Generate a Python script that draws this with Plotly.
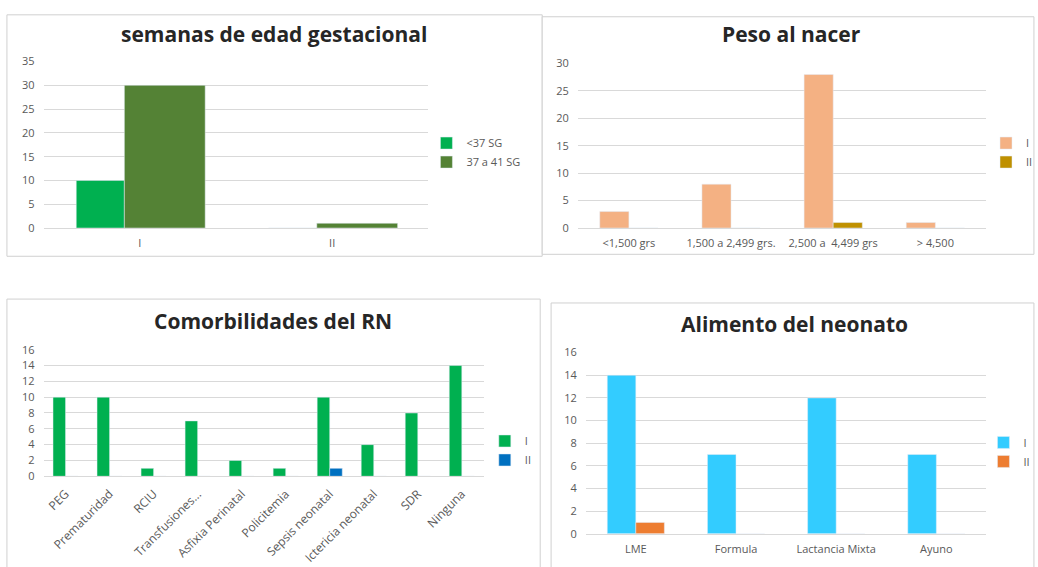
import plotly.graph_objects as go

W, H = 1038, 567

# ---------------- data ----------------
sg_categories = ["I", "II"]
sg_lt37 = [10, 0]
sg_37_41 = [30, 1]

peso_categories = ["<1,500 grs", "1,500 a 2,499 grs.", "2,500 a  4,499 grs", "> 4,500"]
peso_I = [3, 8, 28, 1]
peso_II = [0, 0, 1, 0]

comorb_categories = ["PEG", "Prematuridad", "RCIU", "Transfusiones...", "Asfixia Perinatal",
                     "Policitemia", "Sepsis neonatal", "Ictericia neonatal", "SDR", "Ninguna"]
comorb_I = [10, 10, 1, 7, 2, 1, 10, 4, 8, 14]
comorb_II = [0, 0, 0, 0, 0, 0, 1, 0, 0, 0]

alim_categories = ["LME", "Formula", "Lactancia Mixta", "Ayuno"]
alim_I = [14, 7, 12, 7]
alim_II = [1, 0, 0, 0]

titles = ["semanas de edad gestacional", "Peso al nacer", "Comorbilidades del RN", "Alimento del neonato"]


def px(x):
    return x / W


def py(y):
    return 1 - y / H


FONT = "Open Sans"
TICK = dict(family=FONT, size=11, color="#595959")
GRID = "#d9d9d9"

fig = go.Figure()

# Chart 1
fig.add_trace(go.Bar(x=sg_categories, y=sg_lt37, name="<37 SG", marker_color="#00B050",
                     offset=-0.33, width=0.25, xaxis="x", yaxis="y", legend="legend"))
fig.add_trace(go.Bar(x=sg_categories, y=sg_37_41, name="37 a 41 SG", marker_color="#548235",
                     offset=-0.08, width=0.42, xaxis="x", yaxis="y", legend="legend"))
# Chart 2
fig.add_trace(go.Bar(x=peso_categories, y=peso_I, name="I", marker_color="#F4B183",
                     xaxis="x2", yaxis="y2", legend="legend2"))
fig.add_trace(go.Bar(x=peso_categories, y=peso_II, name="II", marker_color="#BF9000",
                     xaxis="x2", yaxis="y2", legend="legend2"))
# Chart 3
fig.add_trace(go.Bar(x=comorb_categories, y=comorb_I, name="I", marker_color="#00B050",
                     xaxis="x3", yaxis="y3", legend="legend3"))
fig.add_trace(go.Bar(x=comorb_categories, y=comorb_II, name="II", marker_color="#0070C0",
                     xaxis="x3", yaxis="y3", legend="legend3"))
# Chart 4
fig.add_trace(go.Bar(x=alim_categories, y=alim_I, name="I", marker_color="#33CCFF",
                     xaxis="x4", yaxis="y4", legend="legend4"))
fig.add_trace(go.Bar(x=alim_categories, y=alim_II, name="II", marker_color="#ED7D31",
                     xaxis="x4", yaxis="y4", legend="legend4"))


def xax(dom, anchor, angle=0, size=11):
    return dict(domain=dom, anchor=anchor, type="category", showgrid=False,
                showline=True, linecolor=GRID, linewidth=1, ticks="",
                tickfont=dict(family=FONT, size=size, color="#595959"),
                tickangle=angle, fixedrange=True, ticklabelstandoff=5)


def yax(dom, anchor, rng, dtick):
    return dict(domain=dom, anchor=anchor, range=rng, dtick=dtick, showgrid=True,
                gridcolor=GRID, gridwidth=1, showline=False, zeroline=False, ticks="",
                tickfont=TICK, fixedrange=True, ticklabelstandoff=8)


def leg(x, ymid):
    return dict(x=px(x), y=py(ymid), xanchor="left", yanchor="middle",
                font=dict(family=FONT, size=11, color="#595959"), bgcolor="rgba(0,0,0,0)",
                tracegroupgap=0, itemwidth=30)


borders = [(7, 7, 548, 255), (548, 9, 1045, 253), (7, 299, 546, 575), (557, 303, 1045, 575)]
shapes = [dict(type="rect", xref="paper", yref="paper", x0=px(a), y0=py(d), x1=px(c), y1=py(b),
               line=dict(color="#d0d0d0", width=1), fillcolor="white", layer="below")
          for a, b, c, d in borders]

title_pos = [(277, 27), (800, 27), (276, 322), (803, 325)]
annotations = [dict(text="<b>%s</b>" % t, x=px(x), y=py(y), xref="paper", yref="paper",
                    showarrow=False, xanchor="center", yanchor="middle",
                    font=dict(family=FONT, size=21, color="#262626"))
               for t, (x, y) in zip(titles, title_pos)]

fig.update_layout(
    width=W, height=H, margin=dict(l=0, r=0, t=0, b=0),
    paper_bgcolor="white", plot_bgcolor="rgba(0,0,0,0)",
    barmode="group", bargap=0.43, bargroupgap=0,
    xaxis=xax([px(44), px(433)], "y"),
    yaxis=yax([py(226), py(55)], "x", [0, 35], 5),
    xaxis2=xax([px(584), px(997)], "y2"),
    yaxis2=yax([py(226), py(57)], "x2", [0, 30], 5),
    xaxis3=xax([px(44), px(489)], "y3", angle=-45, size=12),
    yaxis3=yax([py(481), py(351)], "x3", [0, 16], 2),
    xaxis4=xax([px(592), px(997)], "y4"),
    yaxis4=yax([py(540), py(354)], "x4", [0, 16], 2),
    legend=leg(431, 148.5),
    legend2=leg(997, 148.5),
    legend3=leg(490, 454.5),
    legend4=leg(994, 456),
    shapes=shapes, annotations=annotations,
    showlegend=True,
)

fig.write_html("out.html")
